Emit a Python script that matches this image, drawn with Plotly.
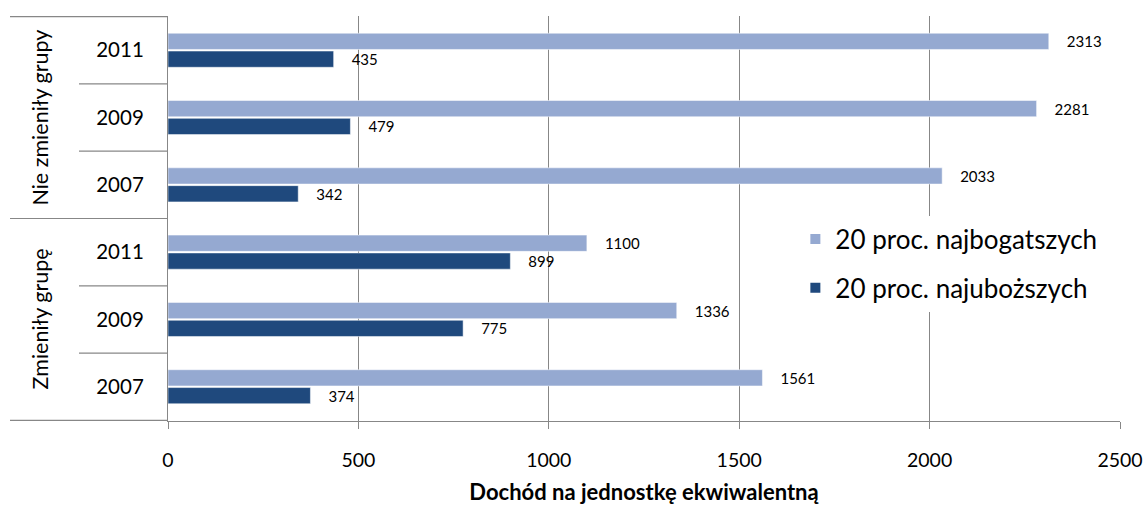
import plotly.graph_objects as go

# ---- data ----
groups = ["Zmieniły grupę", "Zmieniły grupę", "Zmieniły grupę",
          "Nie zmieniły grupy", "Nie zmieniły grupy", "Nie zmieniły grupy"]
years = ["2007", "2009", "2011", "2007", "2009", "2011"]
richest = [1561, 1336, 1100, 2033, 2281, 2313]
poorest = [374, 775, 899, 342, 479, 435]
series_names = ["20 proc. najbogatszych", "20 proc. najuboższych"]
x_ticks = [0, 500, 1000, 1500, 2000, 2500]
x_title = "Dochód na jednostkę ekwiwalentną"

cats = [f"{g} {y}" for g, y in zip(groups, years)]

FONT = "Lato, 'Open Sans', sans-serif"
LIGHT = "#95A9D1"
DARK = "#1F497D"
GRID = "#878787"

fig = go.Figure()
fig.add_trace(go.Bar(
    y=cats, x=poorest, orientation="h", name=series_names[1],
    marker=dict(color=DARK, line=dict(color="white", width=0.5)),
    texttemplate="\u2002\u2002%{x}", textposition="outside",
    textfont=dict(size=15, color="#000"), cliponaxis=False, constraintext="none",
    legendrank=2, legendgroup="b",
))
fig.add_trace(go.Bar(
    y=cats, x=richest, orientation="h", name=series_names[0],
    marker=dict(color=LIGHT, line=dict(color="white", width=0.5)),
    texttemplate="\u2002\u2002%{x}", textposition="outside",
    textfont=dict(size=15, color="#000"), cliponaxis=False, constraintext="none",
    legendrank=1, legendgroup="a",
))

shapes = []
xl_outer = (10 - 168) / 952
xl_inner = (79 - 168) / 952
for yv in [-0.5, 2.5, 5.5]:
    shapes.append(dict(type="line", xref="paper", yref="y", x0=xl_outer, x1=0,
                       y0=yv, y1=yv, line=dict(color=GRID, width=1.2)))
for yv in [0.5, 1.5, 3.5, 4.5]:
    shapes.append(dict(type="line", xref="paper", yref="y", x0=xl_inner, x1=0,
                       y0=yv, y1=yv, line=dict(color=GRID, width=1.2)))

annotations = []
group_names = ["Zmieniły grupę", "Nie zmieniły grupy"]
for i, gname in enumerate(group_names):
    annotations.append(dict(text=gname, xref="paper", yref="y",
                            x=(40 - 168) / 952, y=1 + 3 * i, textangle=-90,
                            showarrow=False, font=dict(size=21.5, color="#000", family=FONT),
                            xanchor="center", yanchor="middle"))

fig.update_layout(
    width=1148, height=506,
    margin=dict(l=168, r=28, t=16, b=85),
    paper_bgcolor="white", plot_bgcolor="white",
    font=dict(family=FONT, color="#000"),
    barmode="group", bargap=0.47, bargroupgap=0.09,
    shapes=shapes, annotations=annotations,
    legend=dict(x=0.659, y=0.507, xanchor="left", yanchor="top",
                bgcolor="white", font=dict(size=26, color="#000"),
                tracegroupgap=12, itemsizing="constant"),
    xaxis=dict(range=[0, 2500], tickvals=x_ticks, showgrid=True, gridcolor=GRID,
               gridwidth=1, showline=True, linecolor=GRID, linewidth=1.2,
               ticks="outside", ticklen=7, tickcolor=GRID, zeroline=False,
               ticklabelstandoff=14, tickfont=dict(size=19.5), automargin=False,
               title=dict(text=f"<b>{x_title}</b>", font=dict(size=22), standoff=15)),
    yaxis=dict(categoryorder="array", categoryarray=cats, tickvals=cats, ticktext=years,
               showline=True, linecolor=GRID, linewidth=1.2, showgrid=False,
               ticks="", ticklabelstandoff=19, tickfont=dict(size=20.5), automargin=False),
)

fig.write_html("out.html", config={"displayModeBar": False},
               post_script="document.body.style.margin='0';")
